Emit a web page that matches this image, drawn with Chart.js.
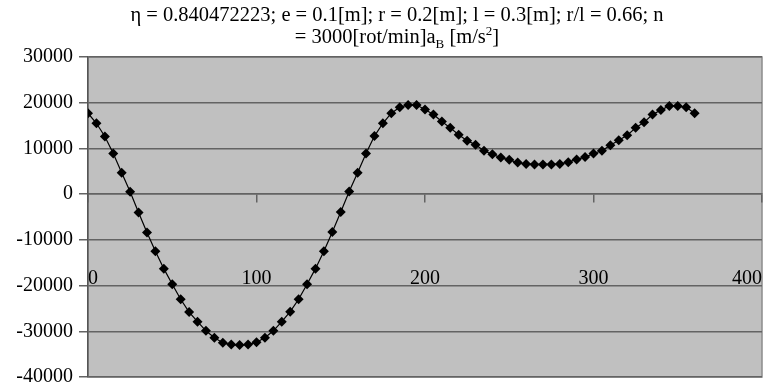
<!DOCTYPE html>
<html>
<head>
<meta charset="utf-8">
<script src="https://cdn.jsdelivr.net/npm/chart.js@4.4.1/dist/chart.umd.min.js"></script>
<style>
  html, body { margin: 0; padding: 0; background: #fff; }
  #wrap { position: relative; width: 770px; height: 385px; }
  #title {
    position: absolute; left: 22px; top: 3px; width: 750px;
    text-align: center; font-family: "Liberation Serif", serif;
    font-size: 20.5px; line-height: 22px; color: #000;
  }
  #title sub, #title sup { font-size: 13px; line-height: 0; }
  canvas { position: absolute; left: 0; top: 0; }
</style>
</head>
<body>
<div id="wrap">
  <canvas id="chartAccel" width="770" height="385"></canvas>
  <div id="title">η = 0.840472223; e = 0.1[m]; r = 0.2[m]; l = 0.3[m]; r/l = 0.66; n<br>= 3000[rot/min]a<sub>B</sub> [m/s<sup>2</sup>]</div>
</div>
<script>
  "use strict";

  // crank angle [deg]
  var angles = [0, 5, 10, 15, 20, 25, 30, 35, 40, 45, 50, 55, 60, 65, 70, 75, 80, 85, 90, 95,
    100, 105, 110, 115, 120, 125, 130, 135, 140, 145, 150, 155, 160, 165, 170, 175, 180, 185, 190, 195,
    200, 205, 210, 215, 220, 225, 230, 235, 240, 245, 250, 255, 260, 265, 270, 275, 280, 285, 290, 295,
    300, 305, 310, 315, 320, 325, 330, 335, 340, 345, 350, 355, 360];

  // acceleration a_B [m/s^2]
  var accel = [17700, 15500, 12600, 8900, 4700, 500, -4000, -8400, -12500, -16300,
    -19700, -23000, -25800, -27900, -29900, -31400, -32500, -32900, -33000, -32900,
    -32400, -31400, -29900, -27900, -25700, -23000, -19700, -16300, -12500, -8300,
    -3900, 600, 4700, 8900, 12700, 15500, 17700, 19000, 19500, 19500,
    18500, 17400, 15900, 14500, 13000, 11700, 10800, 9500, 8700, 8000,
    7500, 6900, 6600, 6500, 6500, 6500, 6600, 7000, 7600, 8100,
    8900, 9500, 10700, 11800, 12900, 14500, 15700, 17400, 18400, 19300,
    19300, 19000, 17700];

  var xTicks = [0, 100, 200, 300, 400];
  var yTicks = [-40000, -30000, -20000, -10000, 0, 10000, 20000, 30000];

  var points = [];
  for (var i = 0; i < angles.length; i++) {
    points.push({ x: angles[i], y: accel[i] });
  }

  // grey plot area with a light frame
  var plotArea = {
    id: 'plotArea',
    beforeDraw: function(chart) {
      var a = chart.chartArea;
      var ctx = chart.ctx;
      ctx.save();
      ctx.fillStyle = '#c0c0c0';
      ctx.fillRect(a.left, a.top, a.right - a.left, a.bottom - a.top);
      ctx.strokeStyle = '#8c8c8c';
      ctx.lineWidth = 1.5;
      ctx.strokeRect(a.left, a.top, a.right - a.left, a.bottom - a.top);
      ctx.restore();
    }
  };

  Chart.defaults.font.family = '"Liberation Serif", "Times New Roman", serif';
  Chart.defaults.font.size = 20;
  Chart.defaults.color = '#000';

  new Chart(document.getElementById('chartAccel').getContext('2d'), {
    type: 'line',
    data: {
      datasets: [{
        label: 'aB',
        data: points,
        borderColor: '#000',
        borderWidth: 1.2,
        backgroundColor: '#000',
        pointStyle: 'rectRot',
        pointRadius: 5,
        pointBorderWidth: 0,
        pointBackgroundColor: '#000',
        tension: 0
      }]
    },
    options: {
      responsive: false,
      animation: false,
      layout: { padding: { left: 0, top: 57, right: 8, bottom: 8 } },
      plugins: {
        legend: { display: false },
        title: { display: false },
        tooltip: { enabled: false }
      },
      scales: {
        x: {
          type: 'linear',
          position: { y: 0 },
          min: 0,
          max: 400,
          afterBuildTicks: function(scale) {
            scale.ticks = xTicks.map(function(v) { return { value: v }; });
          },
          afterFit: function(scale) {
            scale.height = 0;
            scale.paddingLeft = 0;
            scale.paddingRight = 0;
          },
          grid: {
            drawOnChartArea: false,
            drawTicks: true,
            tickLength: 8,
            color: '#636363',
            lineWidth: 1.5
          },
          border: { color: '#636363', width: 1.5 },
          ticks: {
            padding: 65,
            maxRotation: 0,
            align: 'inner',
            callback: function(v) { return String(v); }
          }
        },
        y: {
          type: 'linear',
          position: 'left',
          min: -40000,
          max: 30000,
          afterBuildTicks: function(scale) {
            scale.ticks = yTicks.map(function(v) { return { value: v }; });
          },
          afterFit: function(scale) {
            scale.width = 88;
            scale.paddingTop = 0;
            scale.paddingBottom = 0;
          },
          grid: {
            color: '#636363',
            lineWidth: 1.5,
            tickLength: 9
          },
          border: { color: '#555', width: 1.5 },
          ticks: {
            padding: 6,
            callback: function(v) { return String(v); }
          }
        }
      }
    },
    plugins: [plotArea]
  });
</script>
</body>
</html>
